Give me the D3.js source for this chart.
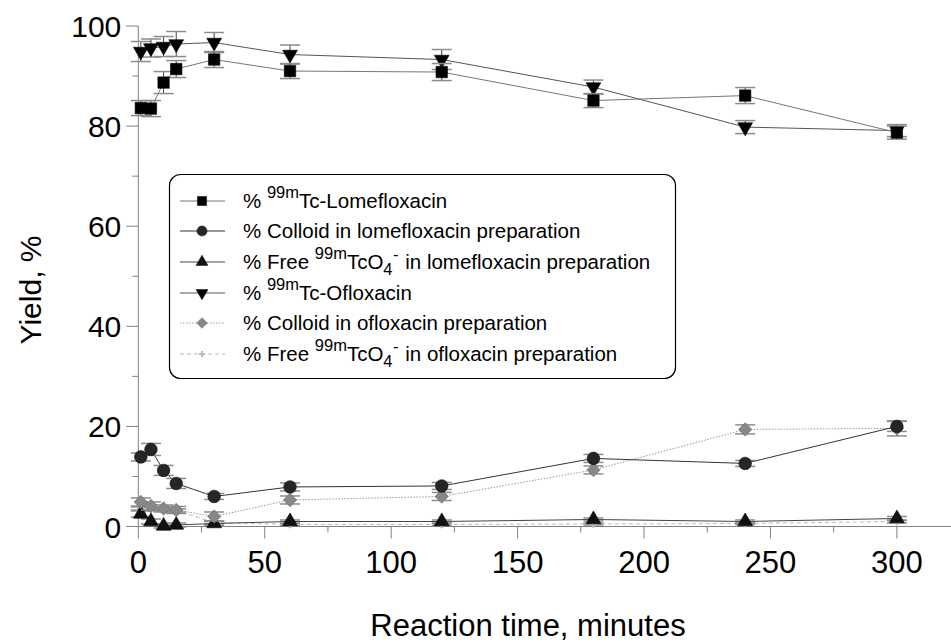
<!DOCTYPE html>
<html>
<head>
<meta charset="utf-8">
<script src="https://cdn.jsdelivr.net/npm/d3@7"></script>
<style>
  body { margin: 0; background: #fff; }
  svg { display: block; font-family: "Liberation Sans", Arial, sans-serif; }
</style>
</head>
<body>
<svg id="chart" width="951" height="643"></svg>
<script>
// Reaction time (minutes)
const time = [1, 5, 10, 15, 30, 60, 120, 180, 240, 300];

// Lomefloxacin preparation
const lomeTc = [83.6, 83.5, 88.7, 91.4, 93.3, 91.0, 90.8, 85.1, 86.1, 78.7];
const lomeTcErr = [1.5, 1.6, 2.2, 1.7, 1.6, 1.5, 1.7, 1.4, 1.6, 1.3];
const lomeColloid = [13.9, 15.4, 11.2, 8.6, 6.0, 7.9, 8.1, 13.6, 12.6, 20.0];
const lomeColloidErr = [0.8, 1.2, 1.0, 1.0, 0.6, 0.8, 0.7, 0.8, 0.6, 1.0];
const lomeFree = [2.5, 1.0, 0.1, 0.3, 0.6, 1.0, 1.0, 1.4, 1.0, 1.6];
const lomeFreeErr = [0.6, 0.5, 0.4, 0.4, 0.4, 0.3, 0.3, 0.3, 0.3, 0.4];

// Ofloxacin preparation
const oflTc = [94.9, 95.6, 95.9, 96.4, 96.7, 94.3, 93.3, 87.8, 79.8, 79.1];
const oflTcErr = [2.0, 1.8, 2.0, 2.5, 2.0, 1.9, 2.0, 1.4, 1.3, 1.2];
const oflColloid = [4.9, 4.1, 3.6, 3.3, 2.0, 5.3, 6.0, 11.3, 19.4, 19.6];
const oflColloidErr = [0.8, 0.8, 0.7, 0.7, 0.9, 0.8, 0.8, 0.8, 0.9, 1.5];
const oflFree = [3.6, 3.5, 3.4, 3.2, 0.8, 0.4, 0.4, 0.5, 0.6, 1.0];
const oflFreeErr = [0.3, 0.3, 0.3, 0.3, 0.3, 0.2, 0.2, 0.2, 0.2, 0.3];

const xTicks = [0, 50, 100, 150, 200, 250, 300];
const yTicks = [0, 20, 40, 60, 80, 100];

const svg = d3.select('#chart');
const x = d3.scaleLinear().domain([0, 321.4]).range([138.3, 951]);
const y = d3.scaleLinear().domain([0, 100]).range([526.5, 26]);

const axisColor = '#808080';

// Axes
const xAxis = svg.append('g').attr('transform', `translate(0,${y(0)})`);
xAxis.append('line').attr('x1', x(0)).attr('x2', 951).attr('stroke', axisColor);
xAxis.selectAll('.minor').data(d3.range(25, 325, 50)).enter().append('line')
  .attr('x1', d => x(d)).attr('x2', d => x(d)).attr('y2', 6).attr('stroke', axisColor);
xAxis.selectAll('.major').data(xTicks).enter().append('line')
  .attr('x1', d => x(d)).attr('x2', d => x(d)).attr('y2', 12).attr('stroke', axisColor);
xAxis.selectAll('text').data(xTicks).enter().append('text')
  .attr('x', d => x(d)).attr('y', 46).attr('text-anchor', 'middle')
  .attr('font-size', 31).text(d => d);

const yAxis = svg.append('g').attr('transform', `translate(${x(0)},0)`);
yAxis.append('line').attr('y1', y(0)).attr('y2', y(100)).attr('stroke', axisColor);
yAxis.selectAll('.minor').data(d3.range(10, 100, 20)).enter().append('line')
  .attr('y1', d => y(d)).attr('y2', d => y(d)).attr('x2', -6).attr('stroke', axisColor);
yAxis.selectAll('.major').data(yTicks).enter().append('line')
  .attr('y1', d => y(d)).attr('y2', d => y(d)).attr('x2', -12).attr('stroke', axisColor);
yAxis.selectAll('text').data(yTicks).enter().append('text')
  .attr('x', -17).attr('y', d => y(d) + 11).attr('text-anchor', 'end')
  .attr('font-size', 30).text(d => d);

svg.append('text').attr('x', 528).attr('y', 636).attr('text-anchor', 'middle')
  .attr('font-size', 31).text('Reaction time, minutes');
svg.append('text').attr('transform', 'translate(41,290) rotate(-90)')
  .attr('text-anchor', 'middle').attr('font-size', 30).text('Yield, %');

// Series definitions
const tri = d3.symbol().type(d3.symbolTriangle).size(95);
const series = [
  { name: 'oflTc', values: oflTc, err: oflTcErr, line: '#555', dash: null,
    path: tri(), rotate: 180, fill: '#000', stroke: '#000' },
  { name: 'lomeTc', values: lomeTc, err: lomeTcErr, line: '#777', dash: null,
    path: d3.symbol().type(d3.symbolSquare).size(130)(), fill: '#000', stroke: '#000' },
  { name: 'oflFree', values: oflFree, err: oflFreeErr, line: '#bbb', dash: '4,3',
    path: d3.symbol().type(d3.symbolCross).size(30)(), fill: '#bbb', stroke: 'none' },
  { name: 'lomeFree', values: lomeFree, err: lomeFreeErr, line: '#444', dash: null,
    path: tri(), fill: '#111', stroke: '#000' },
  { name: 'oflColloid', values: oflColloid, err: oflColloidErr, line: '#999', dash: '1.5,1.5',
    path: d3.symbol().type(d3.symbolDiamond2).size(115)(), fill: '#888', stroke: '#666' },
  { name: 'lomeColloid', values: lomeColloid, err: lomeColloidErr, line: '#333', dash: null,
    path: d3.symbol().type(d3.symbolCircle).size(125)(), fill: '#262626', stroke: '#111' }
];

const line = d3.line().x(d => x(d[0])).y(d => y(d[1]));
const plot = svg.append('g');

series.forEach(s => {
  const pts = time.map((t, i) => [t, s.values[i], s.err[i]]);
  const g = plot.append('g').attr('class', s.name);
  g.append('path').datum(pts).attr('d', line).attr('fill', 'none')
    .attr('stroke', s.line).attr('stroke-width', 1)
    .attr('stroke-dasharray', s.dash);
  const eb = g.selectAll('.err').data(pts).enter().append('g');
  eb.append('line').attr('x1', d => x(d[0])).attr('x2', d => x(d[0]))
    .attr('y1', d => y(d[1] - d[2])).attr('y2', d => y(d[1] + d[2]))
    .attr('stroke', '#444');
  [-1, 1].forEach(sgn => {
    eb.append('line').attr('x1', d => x(d[0]) - 10).attr('x2', d => x(d[0]) + 10)
      .attr('y1', d => y(d[1] + sgn * d[2])).attr('y2', d => y(d[1] + sgn * d[2]))
      .attr('stroke', '#8c8c8c').attr('stroke-width', 1.5);
  });
  g.selectAll('.mk').data(pts).enter().append('path')
    .attr('d', s.path)
    .attr('transform', d => `translate(${x(d[0])},${y(d[1])})` + (s.rotate ? ` rotate(${s.rotate})` : ''))
    .attr('fill', s.fill).attr('stroke', s.stroke).attr('stroke-width', 0.6);
});

// Legend
const legend = svg.append('g');
legend.append('rect').attr('x', 169.5).attr('y', 174.5).attr('width', 506).attr('height', 204)
  .attr('rx', 11).attr('fill', '#fff').attr('stroke', '#000').attr('stroke-width', 1.2);

const legendOrder = ['lomeTc', 'lomeColloid', 'lomeFree', 'oflTc', 'oflColloid', 'oflFree'];
const legendRowY = [201, 231, 262, 293, 323, 354];
const legendLabels = [
  { pre: '% ', sup: '99m', main: 'Tc-Lomefloxacin' },
  { pre: '% Colloid in lomefloxacin preparation' },
  { pre: '% Free ', sup: '99m', main: 'TcO', sub: '4', post: 'in lomefloxacin preparation' },
  { pre: '% ', sup: '99m', main: 'Tc-Ofloxacin' },
  { pre: '% Colloid in ofloxacin preparation' },
  { pre: '% Free ', sup: '99m', main: 'TcO', sub: '4', post: 'in ofloxacin preparation' }
];

legendOrder.forEach((nm, i) => {
  const s = series.find(d => d.name === nm);
  const ly = legendRowY[i];
  const row = legend.append('g');
  row.append('line').attr('x1', 180).attr('x2', 225).attr('y1', ly).attr('y2', ly)
    .attr('stroke', s.line).attr('stroke-width', 1.2).attr('stroke-dasharray', s.dash);
  row.append('path').attr('d', s.path)
    .attr('transform', `translate(202,${ly})` + (s.rotate ? ` rotate(${s.rotate})` : '') + ' scale(0.8)')
    .attr('fill', s.fill).attr('stroke', s.stroke).attr('stroke-width', 0.6);

  const lab = legendLabels[i];
  const txt = row.append('text').attr('x', 243).attr('y', ly + 7).attr('font-size', 20.5);
  txt.append('tspan').text(lab.pre);
  if (lab.sup) {
    txt.append('tspan').attr('dy', -10).attr('font-size', 16.5).text(lab.sup);
    txt.append('tspan').attr('dy', 10).text(lab.main);
  }
  if (lab.sub) {
    // subscript 4 followed by a raised minus sign
    txt.append('tspan').attr('dy', 6).attr('font-size', 16.5).text('4');
    txt.append('tspan').attr('dx', 0.5).attr('dy', -15).attr('font-size', 16.5).text('-');
    txt.append('tspan').attr('dx', 1).attr('dy', 9).text('\u00a0' + lab.post);
  }
});
</script>
</body>
</html>
